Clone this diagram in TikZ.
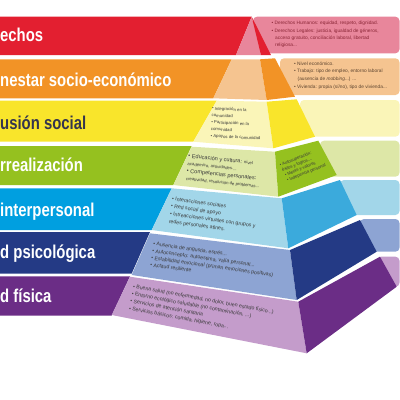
\documentclass[tikz,border=0pt]{standalone}
\usepackage{fontspec}
\setmainfont{Liberation Sans}
\newfontfamily\titlefont[FakeStretch=0.8]{Liberation Sans}
\definecolor{cRed}{HTML}{E31F30}
\definecolor{cPink}{HTML}{E8869B}
\definecolor{cOrange}{HTML}{F29326}
\definecolor{cPeach}{HTML}{F5C490}
\definecolor{cYellow}{HTML}{F9E52B}
\definecolor{cPaleY}{HTML}{FAF5B8}
\definecolor{cGreen}{HTML}{95C11F}
\definecolor{cPaleG}{HTML}{DDE7A7}
\definecolor{cBlue}{HTML}{009FE0}
\definecolor{cBlueR}{HTML}{3BAADC}
\definecolor{cPaleB}{HTML}{A2D6E9}
\definecolor{cNavy}{HTML}{243A85}
\definecolor{cGreyB}{HTML}{8DA4D3}
\definecolor{cPurple}{HTML}{6B2D86}
\definecolor{cLilac}{HTML}{C49CCB}
\definecolor{cTxt}{HTML}{3A3A3A}
\definecolor{cMaroon}{HTML}{8A2636}
\definecolor{cBrown}{HTML}{5E4530}
\tikzset{
  ttl/.style={anchor=base west, inner sep=0pt, text=white,
    font=\titlefont\bfseries\fontsize{18.6}{20}\selectfont},
  small/.style={anchor=north west, inner sep=0pt, align=left, text=cTxt},
  panel/.style={rounded corners=4pt},
}
\begin{document}
\begin{tikzpicture}[x=1pt,y=-1pt]
\useasboundingbox (0,0) rectangle (400,400);
\clip (0,0) rectangle (400,400);

% right panels
\fill[cPink,panel]   (253,16.7) rectangle (399.5,53.3);
\fill[cPeach,panel]  (280,58.3) rectangle (399.5,95);
\fill[cPaleY,panel]  (300,100) rectangle (399.5,136.7);
\fill[cPaleG,panel]  (320,140.7) rectangle (399.5,176.7);
\fill[cPaleB,panel]  (340,180) rectangle (399.5,215);
\fill[cGreyB,panel]  (360,219) rectangle (399.5,251.7);
\fill[cLilac,panel]  (377,256.7) rectangle (399.5,286.7);

% left bands
\fill[cRed]    (0,16.7) -- (251.7,16.7) -- (236,55) -- (0,55) -- cycle;
\fill[cOrange] (0,59.3) -- (231.7,59.3) -- (213.3,98.3) -- (0,98.3) -- cycle;
\fill[cYellow] (0,100.7) -- (216.7,100.7) -- (193.3,141.7) -- (0,141.7) -- cycle;
\fill[cGreen]  (0,146) -- (191.7,146) -- (173.3,185) -- (0,185) -- cycle;
\fill[cBlue]   (0,188.3) -- (171.7,188.3) -- (151.7,230) -- (0,230) -- cycle;
\fill[cNavy]   (0,232) -- (150,232) -- (131.7,273.5) -- (0,273.5) -- cycle;
\fill[cPurple] (0,276.3) -- (130,276.3) -- (111.7,315.5) -- (0,315.5) -- cycle;

% pyramid tiers
% tier 1
\fill[cPink] (251.7,16.7) -- (236,55) -- (261,55) -- cycle;
\fill[cRed]  (251.7,16.7) -- (261,55) -- (271,55) -- cycle;
% tier 2
\fill[cPeach]  (231.7,59.3) -- (260,59.3) -- (266.7,100) -- (213.3,98.3) -- cycle;
\fill[cOrange] (260,59.3) -- (275,58.3) -- (295,96.7) -- (266.7,100) -- cycle;
% tier 3
\fill[cPaleY]  (216.7,100.7) -- (266.7,101.7) -- (273.3,148.3) -- (193.3,141.7) -- cycle;
\fill[cYellow] (266.7,101.7) -- (296.7,99.3) -- (315,136.7) -- (273.3,148.3) -- cycle;
% tier 4
\fill[cPaleG] (191.7,146.7) -- (275,151.7) -- (278.3,196.7) -- (173.3,185) -- cycle;
\fill[cGreen] (275,151.7) -- (318.3,140.7) -- (336.7,175) -- (278.3,196.7) -- cycle;
% tier 5
\fill[cPaleB] (171.7,188.3) -- (281.7,198.3) -- (288.3,248.3) -- (151.7,230) -- cycle;
\fill[cBlueR] (281.7,198.3) -- (340,180) -- (356.7,215) -- (288.3,248.3) -- cycle;
% tier 6
\fill[cGreyB] (150,233.3) -- (290,250) -- (296.7,300) -- (131.7,275) -- cycle;
\fill[cNavy]  (290,250) -- (360,220) -- (376.7,251.7) -- (296.7,300) -- cycle;
% tier 7
\fill[cLilac]  (130,276.7) -- (298.3,301.7) -- (306.7,353.3) -- (111.7,315) -- cycle;
\fill[cPurple] (298.3,301.7) -- (380,256.7) -- (396.7,286.7) -- (306.7,353.3) -- cycle;

% titles
\node[ttl] (t1) at (0,41.7) {echos};
\node[ttl] (t2) at (0,86) {nestar socio-económico};
\node[ttl,text=cTxt!90!blue] (t3) at (0,129) {usión social};
\node[ttl] (t4) at (0,171.7) {rrealización};
\node[ttl] (t5) at (0,216) {interpersonal};
\node[ttl] (t6) at (0,258.3) {d psicológica};
\node[ttl] (t7) at (0,302.7) {d física};

% panel texts
\node[small,text=cMaroon,font=\fontsize{4.8}{7.35}\selectfont] (p1) at (271.5,21.2)
 {• Derechos Humanos: equidad, respeto, dignidad.\\
  • Derechos Legales: justicia, igualdad de géneros,\\
  \hspace*{3.5pt}acceso gratuito, conciliación laboral, libertad\\
  \hspace*{3.5pt}religiosa...};
\node[small,text=cBrown,font=\fontsize{4.8}{7.6}\selectfont] (p2) at (294,61.5)
 {• Nivel económico.\\
  • Trabajo: tipo de empleo, entorno laboral\\
  \hspace*{3.5pt}(ausencia de \textit{mobbing}...) ...\\
  • Vivienda: propia (sí/no), tipo de vivienda...};

% face texts
\node[small,rotate=-3,font=\fontsize{4.3}{6.9}\selectfont] (f3) at (212,106.5)
 {• Integración en la\\
  comunidad\\
  • Participación en la\\
  comunidad\\
  • Apoyos de la comunidad};
\node[small,rotate=-6,font=\fontsize{5.6}{7.5}\selectfont] (f4) at (188.5,153.5)
 {• Educación y cultura: {\fontsize{4.3}{5}\selectfont nivel}\\
  {\fontsize{4.3}{5}\selectfont académico, actividades....}\\
  • Competencias personales:\\
  {\fontsize{4.3}{5}\selectfont creatividad, resolución de problemas...}};
\node[small,rotate=22,font=\fontsize{4.3}{5.6}\selectfont] (r4) at (279,163.5)
 {• Autosuperación:\\
  éxitos y logros....\\
  \hspace*{1pt}• Metas y valores\\
  \hspace*{1pt}• Indepencia personal};
\node[small,rotate=-8,font=\fontsize{5.2}{7.6}\selectfont] (f5) at (172.3,196.5)
 {• Interacciones sociales\\
  • Red social de apoyo\\
  • Intreacciones virtuales con grupos y\\
  redes personales afines.};
\node[small,rotate=-8,font=\fontsize{5.2}{7.1}\selectfont] (f6) at (153.5,241.5)
 {• Ausencia de angustia, estrés...\\
  • Autoconcepto: autoestima, valía personal...\\
  • Estabilidad emocional (priman emociones positivas)\\
  • Actitud resiliente};
\node[small,rotate=-10.5,font=\fontsize{5.2}{7.5}\selectfont] (f7) at (133.5,284)
 {• Buena salud (no enfermedad, no dolor, buen estado físico...)\\
  • Entorno ecológico saludable (no contaminación, ...)\\
  • Servicios de atención sanitaria\\
  • Servicios básicos: comida, higiene, ropa...};
\end{tikzpicture}
\end{document}
